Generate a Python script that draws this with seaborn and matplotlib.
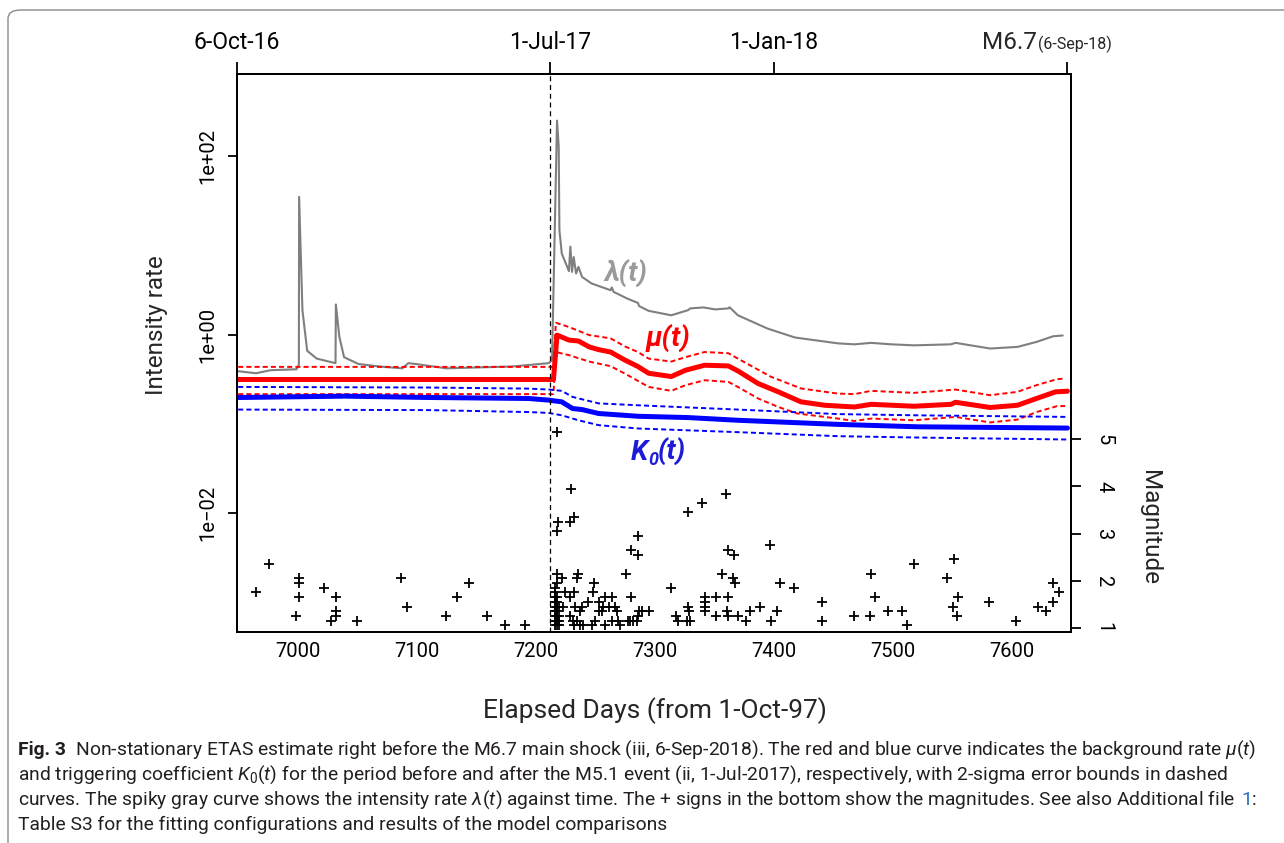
import matplotlib
matplotlib.use("Agg")
import matplotlib.pyplot as plt
import matplotlib.patches as mpatches
from matplotlib.ticker import NullLocator
from matplotlib import font_manager
import pandas as pd
import seaborn as sns

sns.set_theme(style="white")
installed = {f.name for f in font_manager.fontManager.ttflist}
NARROW = [f for f in ["Liberation Sans Narrow", "DejaVu Sans Condensed", "Roboto", "DejaVu Sans"]
          if f in installed]
plt.rcParams["font.family"] = NARROW
plt.rcParams["mathtext.fontset"] = "custom"
plt.rcParams["mathtext.rm"] = NARROW[0]
plt.rcParams["mathtext.it"] = NARROW[0] + ":italic"
plt.rcParams["mathtext.bf"] = NARROW[0] + ":bold"

# ---- data (elapsed days from 1-Oct-97) ----
# lambda(t), intensity rate (gray)
lam_day = [6950, 6965, 6977, 6999, 7001, 7001.2, 7004, 7008,
           7016, 7031.8, 7032.1, 7035, 7039, 7051, 7069, 7088,
           7093, 7099, 7125, 7152, 7180, 7211, 7213.8, 7218,
           7219.4, 7220, 7222, 7228, 7229.2, 7230.6, 7232, 7234,
           7236, 7239, 7247, 7263, 7264, 7265.5, 7277, 7286,
           7287, 7295, 7314, 7328, 7330, 7341, 7351, 7362,
           7363, 7370, 7395, 7418, 7454, 7468, 7482, 7499,
           7518, 7549, 7553, 7582, 7605, 7621, 7635, 7643]
lam_val = [0.39, 0.37, 0.40, 0.41, 0.46, 35, 1.88, 0.66,
           0.54, 0.48, 2.18, 0.95, 0.56, 0.47, 0.44, 0.42,
           0.48, 0.47, 0.42, 0.43, 0.44, 0.48, 0.52, 250,
           127, 14.8, 8.1, 5.15, 9.7, 5.05, 7.4, 4.85,
           5.75, 4.44, 3.75, 3.15, 3.38, 3.02, 2.54, 2.27,
           2.09, 1.85, 1.65, 1.88, 1.97, 2.02, 1.92, 1.97,
           2.03, 1.65, 1.17, 0.93, 0.80, 0.78, 0.81, 0.78,
           0.76, 0.78, 0.81, 0.70, 0.73, 0.83, 0.96, 0.98]

# mu(t), background rate (red) with 2-sigma bounds
mu_day = [6950, 7215, 7218, 7228, 7236, 7245, 7253, 7263, 7275, 7286,
          7295, 7314, 7326, 7342, 7362, 7370, 7387, 7404, 7423, 7443,
          7468, 7482, 7518, 7549, 7553, 7582, 7605, 7621, 7637, 7647]
mu_val = [0.315, 0.315, 0.99, 0.87, 0.85, 0.73, 0.68, 0.64, 0.52, 0.44,
          0.37, 0.34, 0.40, 0.455, 0.447, 0.393, 0.284, 0.229, 0.177, 0.162,
          0.155, 0.166, 0.158, 0.166, 0.175, 0.153, 0.162, 0.193, 0.229, 0.233]
mu_up_day = [6950, 7215, 7217, 7228, 7245, 7263, 7275, 7286, 7295, 7314,
             7326, 7342, 7362, 7370, 7398, 7423, 7454, 7468, 7482, 7518,
             7553, 7582, 7605, 7621, 7638, 7645]
mu_up_val = [0.436, 0.436, 1.36, 1.22, 0.99, 0.91, 0.74, 0.64, 0.54, 0.50,
             0.56, 0.64, 0.62, 0.54, 0.337, 0.25, 0.219, 0.216, 0.235, 0.223,
             0.243, 0.21, 0.229, 0.272, 0.317, 0.323]
mu_lo_day = [6950, 7215, 7217, 7228, 7245, 7263, 7275, 7295, 7314, 7326,
             7342, 7362, 7370, 7387, 7404, 7420, 7454, 7468, 7482, 7518,
             7553, 7582, 7605, 7621, 7638, 7645]
mu_lo_val = [0.216, 0.216, 0.64, 0.59, 0.50, 0.444, 0.367, 0.26, 0.235, 0.272,
             0.309, 0.296, 0.26, 0.193, 0.155, 0.131, 0.115, 0.108, 0.115, 0.110,
             0.12, 0.104, 0.112, 0.136, 0.158, 0.159]

# K0(t), triggering coefficient (blue) with 2-sigma bounds
k0_day = [6950, 7040, 7111, 7194, 7211, 7222, 7231, 7239,
          7253, 7286, 7328, 7370, 7454, 7521, 7647]
k0_val = [0.198, 0.205, 0.198, 0.193, 0.185, 0.177, 0.149, 0.145,
          0.131, 0.122, 0.118, 0.110, 0.099, 0.093, 0.090]
k0_up_day = [6950, 7111, 7194, 7211, 7222, 7231, 7253, 7286, 7370, 7454, 7521, 7647]
k0_up_val = [0.26, 0.256, 0.249, 0.243, 0.235, 0.201, 0.17, 0.162, 0.145, 0.129, 0.125, 0.12]
k0_lo_day = [6950, 7111, 7194, 7211, 7222, 7236, 7253, 7286, 7370, 7454, 7521, 7647]
k0_lo_val = [0.145, 0.143, 0.136, 0.133, 0.125, 0.11, 0.097, 0.089, 0.081, 0.073, 0.0705, 0.067]

# magnitudes of events (+ signs)
mag_day = [6965, 6976, 7001, 7001, 7001, 6999, 7022, 7032, 7032, 7032,
           7028, 7050, 7087, 7092, 7125, 7134, 7144, 7159, 7174, 7191,
           7218, 7230, 7232, 7229, 7219, 7218, 7286, 7280, 7286, 7276,
           7280, 7279, 7285, 7289, 7216, 7216, 7216, 7216, 7216, 7216,
           7216, 7216, 7216, 7218, 7218, 7218, 7218, 7218, 7218, 7218,
           7218, 7220, 7220, 7220, 7220, 7218, 7222, 7236, 7234.5, 7249,
           7248.5, 7225, 7232, 7229, 7223, 7233, 7239, 7237, 7244, 7253,
           7258, 7264, 7257, 7262, 7267, 7253, 7255.5, 7268, 7229, 7231,
           7235, 7232, 7237, 7240, 7247, 7250, 7258, 7264, 7269, 7271,
           7278, 7282, 7287, 7295, 7286, 7314, 7318, 7320, 7327, 7330,
           7328, 7328, 7329, 7340, 7342, 7342, 7342, 7342, 7351.5, 7352,
           7357, 7360, 7362, 7367, 7366, 7368, 7361.5, 7361, 7362, 7370,
           7377, 7380, 7389, 7397, 7398, 7403, 7405.5, 7417, 7441, 7441,
           7468, 7482, 7485, 7481, 7496.5, 7508, 7512, 7518, 7546, 7552,
           7555, 7551, 7554, 7581, 7604, 7622, 7629, 7634.5, 7635, 7640]
mag_val = [1.75, 2.35, 2.05, 1.95, 1.65, 1.25, 1.85, 1.65, 1.35, 1.25,
           1.15, 1.15, 2.05, 1.45, 1.25, 1.65, 1.95, 1.25, 1.05, 1.05,
           5.15, 3.95, 3.35, 3.25, 3.25, 3.05, 2.95, 2.65, 2.55, 2.15,
           1.65, 1.15, 1.15, 1.35, 1.05, 1.15, 1.25, 1.35, 1.45, 1.55,
           1.65, 1.75, 1.85, 1.05, 1.15, 1.25, 1.35, 1.45, 1.55, 1.65,
           1.95, 1.05, 1.15, 1.25, 1.45, 2.15, 2.05, 2.15, 2.05, 1.95,
           1.75, 1.75, 1.75, 1.65, 1.45, 1.45, 1.45, 1.35, 1.55, 1.55,
           1.65, 1.65, 1.45, 1.45, 1.45, 1.35, 1.35, 1.35, 1.25, 1.15,
           1.15, 1.05, 1.05, 1.05, 1.05, 1.15, 1.05, 1.15, 1.15, 1.05,
           1.15, 1.15, 1.35, 1.35, 1.25, 1.85, 1.25, 1.15, 1.15, 1.15,
           3.45, 1.45, 1.35, 3.65, 1.65, 1.55, 1.45, 1.35, 1.65, 1.25,
           2.15, 3.85, 2.65, 2.55, 2.05, 1.95, 1.65, 1.35, 1.25, 1.25,
           1.15, 1.35, 1.45, 2.75, 1.15, 1.35, 1.95, 1.85, 1.55, 1.15,
           1.25, 2.15, 1.65, 1.25, 1.35, 1.35, 1.05, 2.35, 2.05, 2.45,
           1.65, 1.45, 1.25, 1.55, 1.15, 1.45, 1.35, 1.95, 1.55, 1.75]

bottom_ticks = list(range(6950, 7651, 50))
top_ticks = [6949, 7212, 7400, 7647]
top_labels = ["6-Oct-16", "1-Jul-17", "1-Jan-18", ""]
m51_day = 7212

# ---- figure ----
W, H = 1284, 843
fig = plt.figure(figsize=(W / 100, H / 100), dpi=100)
ax = fig.add_axes([237 / W, 1 - 632 / H, (1071 - 237) / W, (632 - 74) / H])

def curve(days, vals, **kw):
    df = pd.DataFrame({"day": days, "rate": vals})
    sns.lineplot(data=df, x="day", y="rate", ax=ax, estimator=None, sort=False, **kw)

dash = (0, (2.6, 1.6))
curve(lam_day, lam_val, color="#7f7f7f", linewidth=1.5)
curve(mu_up_day, mu_up_val, color="red", linewidth=1.4, linestyle=dash)
curve(mu_lo_day, mu_lo_val, color="red", linewidth=1.4, linestyle=dash)
curve(k0_up_day, k0_up_val, color="blue", linewidth=1.4, linestyle=dash)
curve(k0_lo_day, k0_lo_val, color="blue", linewidth=1.4, linestyle=dash)
curve(mu_day, mu_val, color="red", linewidth=3.6)
curve(k0_day, k0_val, color="blue", linewidth=3.6)
ax.axvline(m51_day, color="black", linewidth=0.9, linestyle=(0, (4, 3)))

ax.set_yscale("log")
ax.set_xlim(6949, 7647.4)
ax.set_ylim(10 ** -3.33, 10 ** 2.92)
ax.yaxis.set_minor_locator(NullLocator())
ax.set_yticks([1e-2, 1, 1e2])
ax.set_yticklabels(["1e\u221202", "1e+00", "1e+02"], rotation=90, va="center")
ax.set_xticks(bottom_ticks + [7647.4])
ax.set_xticklabels([str(t) if t % 100 == 0 else "" for t in bottom_ticks] + [""])
ax.set_xlabel("")
ax.set_ylabel("")
ax.tick_params(axis="x", length=6.5, width=1.3, pad=1, labelsize=14.5, colors="black")
ax.tick_params(axis="y", length=6.5, width=1.3, pad=8, labelsize=14.5, colors="black")

# magnitude axis on the right
ax2 = ax.twinx()
sns.scatterplot(x=mag_day, y=mag_val, ax=ax2, marker="+", s=42, color="black",
                linewidth=1.3, legend=False)
ax2.set_ylim(0.909, 12.76)
ax2.set_yticks([1, 2, 3, 4, 5])
ax2.set_yticklabels(["1", "2", "3", "4", "5"], rotation=-90, va="center")
ax2.tick_params(axis="y", length=7, width=1.3, pad=10, labelsize=14.5, colors="black")
ax2.set_ylabel("")

for a in (ax, ax2):
    for s in a.spines.values():
        s.set_color("black")
        s.set_linewidth(1.4)

# top date axis
sec = ax.secondary_xaxis("top")
sec.set_xticks(top_ticks)
sec.set_xticklabels(top_labels)
sec.tick_params(axis="x", length=8.5, width=1.3, pad=6, labelsize=16.5, colors="black")
sec.spines["top"].set_linewidth(1.4)
ax.annotate("M6.7", xy=(7621, 1.045), xycoords=("data", "axes fraction"),
            ha="right", va="baseline", fontsize=17.5, annotation_clip=False)
ax.annotate("(6-Sep-18)", xy=(7622, 1.045), xycoords=("data", "axes fraction"),
            ha="left", va="baseline", fontsize=11.5, annotation_clip=False)

# curve labels
ax.text(7276, 4.76, "\u03bb(t)", color="#9a9a9a", fontsize=20, fontweight="bold",
        fontstyle="italic", ha="center", va="center")
ax.text(7311, 0.89, "\u03bc(t)", color="red", fontsize=20, fontweight="bold",
        fontstyle="italic", ha="center", va="center")
kc = "#1c1cd8"
tk = ax.text(7280, 0.048, "K", color=kc, fontsize=20, fontweight="bold",
             fontstyle="italic", ha="left", va="center")
t0 = ax.annotate("0", xy=(1, 0), xycoords=tk, xytext=(0, -2), textcoords="offset points",
                 color=kc, fontsize=13, fontweight="bold", fontstyle="italic",
                 ha="left", va="bottom")
ax.annotate("(t)", xy=(1, 0), xycoords=t0, xytext=(0, 2), textcoords="offset points",
            color=kc, fontsize=20, fontweight="bold", fontstyle="italic",
            ha="left", va="bottom")

# axis titles
fig.text(156 / W, 1 - 325 / H, "Intensity rate", rotation=90, ha="center", va="center",
         fontsize=17.5)
fig.text(1150 / W, 1 - 528 / H, "Magnitude", rotation=-90, ha="center", va="center",
         fontsize=17.5)
fig.text(655 / W, 1 - 711 / H, "Elapsed Days (from 1-Oct-97)", ha="center", va="center",
         fontsize=19)

# caption
cap_col = "#231f20"
cap_fs = 13.9
x0 = 18 / W
tf = fig.text(x0, 1 - 750 / H, "Fig. 3", fontsize=cap_fs, fontweight="bold",
              color=cap_col, va="center")
plt.annotate("  Non-stationary ETAS estimate right before the M6.7 main shock (iii, 6-Sep-2018). "
             "The red and blue curve indicates the background rate $\\mu(t)$",
             xy=(1, 0.5), xycoords=tf, ha="left", va="center", fontsize=cap_fs, color=cap_col)
fig.text(x0, 1 - 775 / H, "and triggering coefficient $K_0(t)$ for the period before and after "
         "the M5.1 event (ii, 1-Jul-2017), respectively, with 2-sigma error bounds in dashed",
         fontsize=cap_fs, color=cap_col, va="center")
t3 = fig.text(x0, 1 - 800 / H, "curves. The spiky gray curve shows the intensity rate "
              "$\\lambda(t)$ against time. The + signs in the bottom show the magnitudes. "
              "See also Additional file", fontsize=cap_fs, color=cap_col, va="center")
t31 = plt.annotate("1", xy=(1, 0.5), xycoords=t3, xytext=(4, 0), textcoords="offset points",
                   ha="left", va="center", fontsize=cap_fs, color="#2a6ebb")
plt.annotate(":", xy=(1, 0.5), xycoords=t31, ha="left", va="center",
             fontsize=cap_fs, color=cap_col)
fig.text(x0, 1 - 825 / H, "Table S3 for the fitting configurations and results of the model comparisons",
         fontsize=cap_fs, color=cap_col, va="center")

# figure frame
frame = mpatches.FancyBboxPatch((8 / W, -0.05), 1.2, 1 - 10 / H + 0.05,
                                boxstyle="round,pad=0,rounding_size=0.01",
                                transform=fig.transFigure, facecolor="none",
                                edgecolor="#8a8a8a", linewidth=1.0)
fig.patches.append(frame)

fig.savefig("out.png", dpi=100)
